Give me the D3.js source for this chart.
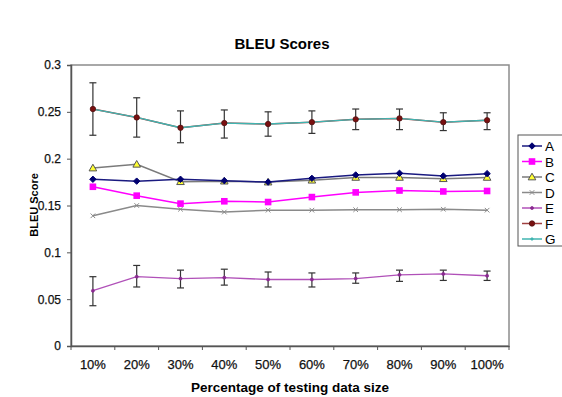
<!DOCTYPE html>
<html>
<head>
<meta charset="utf-8">
<script src="https://cdn.jsdelivr.net/npm/d3@7"></script>
<style>
  body { margin: 0; background: #fff; }
  text { font-family: "Liberation Sans", Arial, sans-serif; }
</style>
</head>
<body>
<div id="chart"></div>
<script>
const W = 562, H = 397;
const frame = { left: 71, top: 65, right: 509, bottom: 346 };

// data
const categories = ["10%", "20%", "30%", "40%", "50%", "60%", "70%", "80%", "90%", "100%"];
const yTicks = [0, 0.05, 0.1, 0.15, 0.2, 0.25, 0.3];
const yTickLabels = ["0", "0.05", "0.1", "0.15", "0.2", "0.25", "0.3"];
const seriesNames = ["A", "B", "C", "D", "E", "F", "G"];

const valuesA = [0.178, 0.176, 0.178, 0.1765, 0.175, 0.179, 0.1826, 0.1844, 0.1815, 0.184];
const valuesB = [0.170, 0.1605, 0.152, 0.1545, 0.1537, 0.159, 0.164, 0.166, 0.165, 0.1655];
const valuesC = [0.190, 0.194, 0.1754, 0.176, 0.175, 0.177, 0.180, 0.180, 0.1786, 0.180];
const valuesD = [0.139, 0.150, 0.146, 0.143, 0.145, 0.145, 0.1455, 0.1455, 0.146, 0.145];
const valuesE = [0.059, 0.074, 0.072, 0.073, 0.071, 0.071, 0.072, 0.076, 0.077, 0.075];
const valuesF = [0.253, 0.244, 0.233, 0.238, 0.237, 0.239, 0.242, 0.243, 0.239, 0.241];
const valuesG = [0.253, 0.244, 0.233, 0.238, 0.237, 0.239, 0.242, 0.243, 0.239, 0.241];

const errE_lo = [0.043, 0.063, 0.062, 0.065, 0.063, 0.063, 0.067, 0.069, 0.070, 0.070];
const errE_hi = [0.074, 0.086, 0.081, 0.082, 0.079, 0.078, 0.078, 0.081, 0.081, 0.080];
const errF_lo = [0.225, 0.223, 0.217, 0.222, 0.224, 0.227, 0.231, 0.231, 0.230, 0.231];
const errF_hi = [0.281, 0.265, 0.251, 0.252, 0.250, 0.251, 0.253, 0.253, 0.249, 0.249];

const svg = d3.select("#chart").append("svg")
    .attr("width", W).attr("height", H)

const x = d3.scaleBand().domain(categories).range([frame.left, frame.right])
const y = d3.scaleLinear().domain([0, 0.3]).range([frame.bottom, frame.top])
const cx = d => x(d) + x.bandwidth() / 2

// plot frame
svg.append("rect")
    .attr("x", frame.left).attr("y", frame.top)
    .attr("width", frame.right - frame.left).attr("height", frame.bottom - frame.top)
    .attr("fill", "none").attr("stroke", "#8c8c8c").attr("stroke-width", 1.5)

// y axis
const yAxis = svg.append("g").attr("transform", `translate(${frame.left},0)`)
    .call(d3.axisLeft(y).tickValues(yTicks).tickSize(4).tickFormat((d, i) => yTickLabels[i]))
yAxis.select(".domain").attr("stroke", "#555").attr("stroke-width", 1.5)
yAxis.selectAll(".tick line").attr("stroke", "#555")
yAxis.selectAll("text").attr("font-size", "12px").attr("fill", "#111")
    .style("font-family", "Liberation Sans, Arial, sans-serif").attr("dx", "-3")
    .attr("stroke", "#111").attr("stroke-width", 0.25)

// x axis: ticks on the band edges
const xAxis = svg.append("g").attr("transform", `translate(0,${frame.bottom})`)
    .call(d3.axisBottom(x).tickSize(0).tickPadding(14))
xAxis.select(".domain").attr("stroke", "#555").attr("stroke-width", 1.5)
xAxis.selectAll("text").attr("font-size", "13px").attr("fill", "#111")
    .style("font-family", "Liberation Sans, Arial, sans-serif")
    .attr("stroke", "#111").attr("stroke-width", 0.25)
const edges = categories.map(d => x(d)).concat([frame.right])
svg.append("g").selectAll("line").data(edges).enter().append("line")
    .attr("x1", d => d).attr("x2", d => d)
    .attr("y1", frame.bottom).attr("y2", frame.bottom + 4)
    .attr("stroke", "#555")

// titles
svg.append("text").attr("x", 282).attr("y", 49)
    .attr("text-anchor", "middle").attr("font-size", "15px").attr("font-weight", "bold")
    .text("BLEU Scores")
svg.append("text").attr("x", 290).attr("y", 392)
    .attr("text-anchor", "middle").attr("font-size", "13.5px").attr("font-weight", "bold")
    .text("Percentage of testing data size")
svg.append("text").attr("transform", "translate(38,205) rotate(-90)")
    .attr("text-anchor", "middle").attr("font-size", "11px").attr("font-weight", "bold")
    .text("BLEU Score")

const line = d3.line().x((d, i) => cx(categories[i])).y(d => y(d))

// error bars
function errorBars(lo, hi) {
    const g = svg.append("g")
    categories.forEach((c, i) => {
        const xc = cx(c)
        g.append("line").attr("x1", xc).attr("x2", xc).attr("y1", y(lo[i])).attr("y2", y(hi[i]))
            .attr("stroke", "#333").attr("stroke-width", 1.2)
        ;[lo[i], hi[i]].forEach(v => {
            g.append("line").attr("x1", xc - 3.5).attr("x2", xc + 3.5).attr("y1", y(v)).attr("y2", y(v))
                .attr("stroke", "#333").attr("stroke-width", 1.2)
        })
    })
}
errorBars(errE_lo, errE_hi)
errorBars(errF_lo, errF_hi)

const series = [
    { name: "A", values: valuesA, line: "#1a1a80", marker: "diamond", fill: "#000070", stroke: "#000070", size: 3.2 },
    { name: "B", values: valuesB, line: "#ff00ff", marker: "square", fill: "#ff00ff", stroke: "#ff00ff", size: 3.3 },
    { name: "C", values: valuesC, line: "#7a7a7a", marker: "triangle", fill: "#ffff33", stroke: "#555", size: 3.8 },
    { name: "D", values: valuesD, line: "#8a8a8a", marker: "cross", fill: "none", stroke: "#8a8a8a", size: 2.3 },
    { name: "E", values: valuesE, line: "#b050b8", marker: "dot", fill: "#8a2a90", stroke: "#8a2a90", size: 1.5 },
    { name: "F", values: valuesF, line: "#a04040", marker: "circle", fill: "#7a1010", stroke: "#501010", size: 2.7 },
    { name: "G", values: valuesG, line: "#40b4b0", marker: "dot", fill: "#40b4b0", stroke: "#40b4b0", size: 1.2 }
]

function drawMarker(g, s, px, py) {
    const r = s.size
    if (s.marker === "diamond") {
        g.append("path").attr("d", `M${px},${py - r}L${px + r},${py}L${px},${py + r}L${px - r},${py}Z`)
            .attr("fill", s.fill).attr("stroke", s.stroke)
    } else if (s.marker === "square") {
        g.append("rect").attr("x", px - r).attr("y", py - r).attr("width", 2 * r).attr("height", 2 * r)
            .attr("fill", s.fill)
    } else if (s.marker === "triangle") {
        g.append("path").attr("d", `M${px},${py - r}L${px + r},${py + r * 0.75}L${px - r},${py + r * 0.75}Z`)
            .attr("fill", s.fill).attr("stroke", s.stroke).attr("stroke-width", 1)
    } else if (s.marker === "cross") {
        g.append("path").attr("d", `M${px - r},${py - r}L${px + r},${py + r}M${px - r},${py + r}L${px + r},${py - r}`)
            .attr("stroke", s.stroke).attr("stroke-width", 1)
    } else {
        g.append("circle").attr("cx", px).attr("cy", py).attr("r", r)
            .attr("fill", s.fill).attr("stroke", s.stroke).attr("stroke-width", 0.8)
    }
}

// F line sits under G's teal line
const order = ["D", "B", "C", "A", "E", "F", "G"]
order.forEach(n => {
    const s = series.find(d => d.name === n)
    svg.append("path").datum(s.values).attr("d", line)
        .attr("fill", "none").attr("stroke", s.line).attr("stroke-width", n === "G" || n === "E" ? 1.3 : 1.5)
})
order.forEach(n => {
    if (n === "G") return
    const s = series.find(d => d.name === n)
    const g = svg.append("g")
    s.values.forEach((v, i) => drawMarker(g, s, cx(categories[i]), y(v)))
})

// legend
const lg = svg.append("g")
lg.append("rect").attr("x", 518).attr("y", 135).attr("width", 60).attr("height", 111)
    .attr("fill", "#fff").attr("stroke", "#555").attr("stroke-width", 1)
series.forEach((s, i) => {
    const ly = 146 + i * 15.5
    lg.append("line").attr("x1", 522).attr("x2", 542).attr("y1", ly).attr("y2", ly)
        .attr("stroke", s.line).attr("stroke-width", 1.5)
    drawMarker(lg, s, 532, ly)
    lg.append("text").attr("x", 545).attr("y", ly + 5).attr("font-size", "13.5px").text(s.name)
})
</script>
</body>
</html>
